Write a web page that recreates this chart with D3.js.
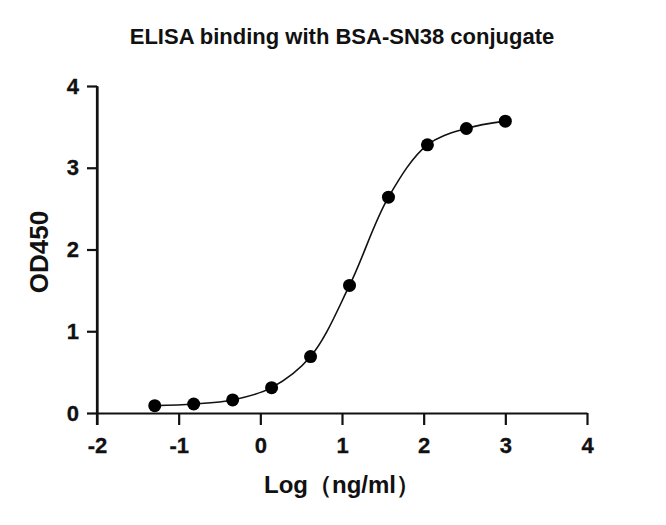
<!DOCTYPE html>
<html><head><meta charset="utf-8">
<script src="https://cdn.jsdelivr.net/npm/d3@7"></script>
<style>body{margin:0;background:#fff}svg{display:block}text{font-family:"Liberation Sans",Arial,sans-serif;font-weight:bold;fill:#111}</style>
</head><body>
<svg id="c" width="666" height="525"></svg>
<script>
const logConc = [-1.293, -0.816, -0.339, 0.138, 0.615, 1.092, 1.569, 2.046, 2.523, 3.0];
const od450 = [0.09, 0.11, 0.16, 0.31, 0.69, 1.56, 2.64, 3.28, 3.48, 3.57];
const xTicks = [-2, -1, 0, 1, 2, 3, 4];
const yTicks = [0, 1, 2, 3, 4];
const title = "ELISA binding with BSA-SN38 conjugate";
const xTitle = "Log（ng/ml）";
const yTitle = "OD450";

const svg = d3.select("#c");
const x = d3.scaleLinear().domain([-2, 4]).range([97, 587]);
const y = d3.scaleLinear().domain([0, 4]).range([413, 86]);

svg.append("text").attr("x", 342).attr("y", 44).attr("text-anchor", "middle")
  .style("font-size", "22px").text(title);

const xa = svg.append("g").attr("transform", `translate(0,${y(0)})`)
  .call(d3.axisBottom(x).tickValues(xTicks).tickFormat(d => String(d)).tickSize(12).tickPadding(12).tickSizeOuter(0));
const ya = svg.append("g").attr("transform", `translate(${x(-2)},0)`)
  .call(d3.axisLeft(y).tickValues(yTicks).tickFormat(d => String(d)).tickSize(10).tickPadding(8).tickSizeOuter(0));
[xa, ya].forEach(a => {
  a.attr("font-size", 22).attr("font-family", '"Liberation Sans",Arial,sans-serif').attr("font-weight", "bold");
  a.select(".domain").attr("stroke", "#111").attr("stroke-width", 2.2);
  a.selectAll(".tick line").attr("stroke", "#111").attr("stroke-width", 2.2);
  a.selectAll(".tick text").style("font-size", "22px").attr("fill", "#111")
    .attr("stroke", "#111").attr("stroke-width", 0.3);
});
svg.append("line").attr("x1", x(-2)).attr("x2", x(-2)).attr("y1", y(4)).attr("y2", y(0) + 12)
  .attr("stroke", "#111").attr("stroke-width", 2.2);

svg.append("text").attr("x", 342).attr("y", 493).attr("text-anchor", "middle")
  .style("font-size", "24px").text(xTitle);
svg.append("text").attr("transform", `translate(48,252) rotate(-90)`).attr("text-anchor", "middle")
  .style("font-size", "26px").text(yTitle);

const pts = logConc.map((v, i) => [v, od450[i]]);
svg.append("path").datum(pts)
  .attr("d", d3.line().x(d => x(d[0])).y(d => y(d[1])).curve(d3.curveCatmullRom.alpha(0.5)))
  .attr("fill", "none").attr("stroke", "#111").attr("stroke-width", 1.6);
svg.selectAll("circle.p").data(pts).join("circle").attr("class", "p")
  .attr("cx", d => x(d[0])).attr("cy", d => y(d[1])).attr("r", 6.5).attr("fill", "#000");
</script>
</body></html>
